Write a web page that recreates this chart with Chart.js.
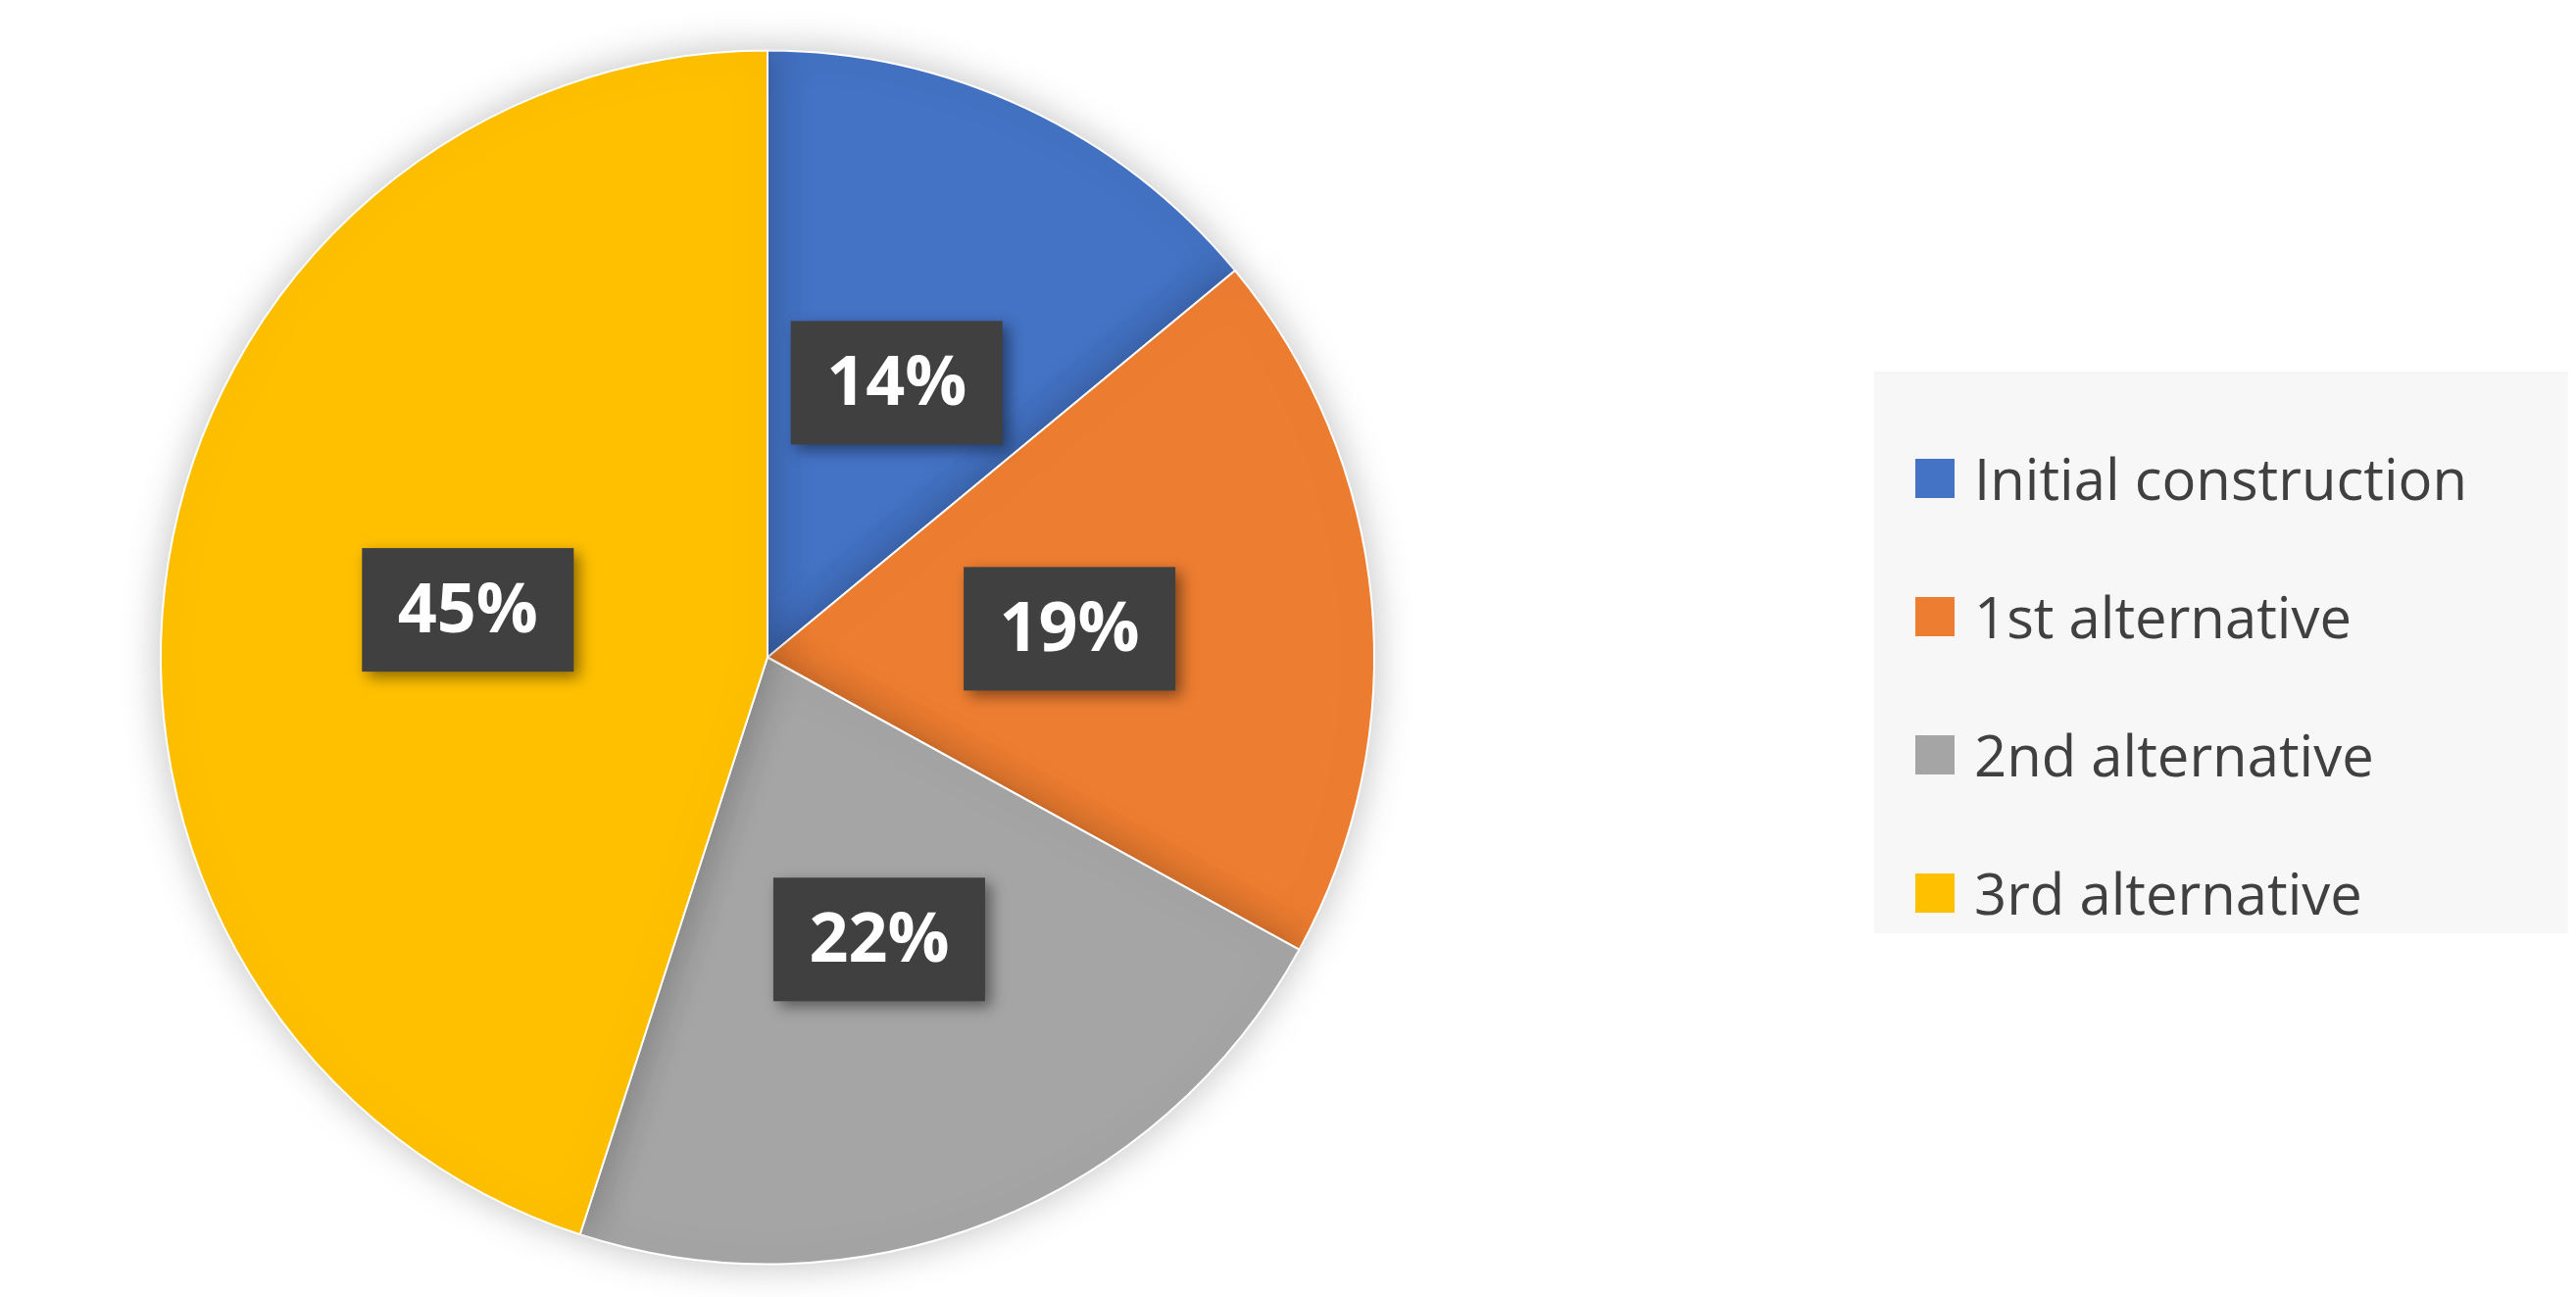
<!DOCTYPE html>
<html>
<head>
<meta charset="utf-8">
<script src="https://cdn.jsdelivr.net/npm/chart.js@4/dist/chart.umd.min.js"></script>
<style>
  html, body { margin: 0; padding: 0; background: #fff; }
  #wrap { position: relative; width: 2628px; height: 1323px; }
  #legend {
    position: absolute; left: 1912px; top: 379px; width: 708px; height: 573px;
    background: #f7f7f7; box-sizing: border-box; padding-top: 38px;
    font-family: "Open Sans", sans-serif; font-size: 58px; color: #404040;
  }
  .item { display: flex; align-items: center; height: 141px; padding-left: 42px; }
  .sw { width: 40px; height: 40px; margin-right: 20px; }
</style>
</head>
<body>
<div id="wrap">
  <canvas id="c" width="2628" height="1323"></canvas>
  <div id="legend"></div>
</div>
<script>
const categories = ["Initial construction", "1st alternative", "2nd alternative", "3rd alternative"];
const values     = [14, 19, 22, 45];
const colors     = ["#4472C4", "#ED7D31", "#A5A5A5", "#FFC000"];

// legend
const legend = document.getElementById("legend");
categories.forEach((name, i) => {
  const row = document.createElement("div");
  row.className = "item";
  row.innerHTML = `<span class="sw" style="background:${colors[i]}"></span><span>${name}</span>`;
  legend.appendChild(row);
});

const shadowPlugin = {
  id: "pieShadow",
  beforeDatasetsDraw(chart) {
    const ctx = chart.ctx;
    ctx.save();
    ctx.shadowColor = "rgba(0,0,0,0.25)";
    ctx.shadowBlur = 40;
  },
  afterDatasetsDraw(chart) {
    chart.ctx.restore();
  }
};

const labelPlugin = {
  id: "boxLabels",
  afterDraw(chart) {
    const { ctx } = chart;
    const meta = chart.getDatasetMeta(0);
    meta.data.forEach((arc, i) => {
      const mid = (arc.startAngle + arc.endAngle) / 2;
      const r = arc.outerRadius * 0.5;
      const x = arc.x + Math.cos(mid) * r;
      const y = arc.y + Math.sin(mid) * r;
      const w = 216, h = 126;
      ctx.save();
      ctx.shadowColor = "rgba(0,0,0,0.45)";
      ctx.shadowBlur = 14;
      ctx.shadowOffsetX = 6;
      ctx.shadowOffsetY = 6;
      ctx.fillStyle = "#404040";
      ctx.fillRect(x - w / 2, y - h / 2, w, h);
      ctx.restore();
      ctx.save();
      ctx.fillStyle = "#ffffff";
      ctx.font = "bold 70px 'Open Sans', sans-serif";
      ctx.textAlign = "center";
      ctx.textBaseline = "middle";
      ctx.fillText(values[i] + "%", x, y + 3);
      ctx.restore();
    });
  }
};

new Chart(document.getElementById("c"), {
  type: "pie",
  data: {
    labels: categories,
    datasets: [{
      data: values,
      backgroundColor: colors,
      borderColor: "#ffffff",
      borderWidth: 2
    }]
  },
  plugins: [shadowPlugin, labelPlugin],
  options: {
    responsive: false,
    animation: false,
    layout: { padding: { left: 163, right: 1225, top: 50, bottom: 32 } },
    plugins: { legend: { display: false }, tooltip: { enabled: false } }
  }
});
</script>
</body>
</html>
